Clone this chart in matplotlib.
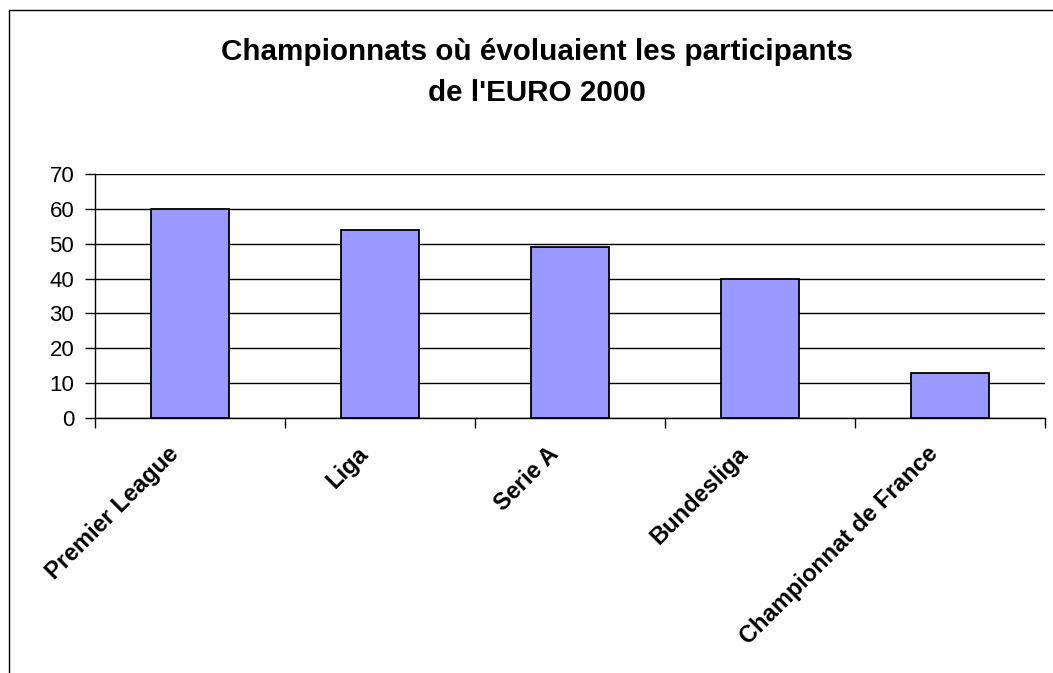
import matplotlib
matplotlib.use("Agg")
import matplotlib.pyplot as plt
from matplotlib.patches import Rectangle
import numpy as np

categories = ["Premier League", "Liga", "Serie A", "Bundesliga", "Championnat de France"]
values = [60, 54, 49, 40, 13]
yticks = [0, 10, 20, 30, 40, 50, 60, 70]
title = "Championnats où évoluaient les participants\nde l'EURO 2000"

plt.rcParams['font.family'] = ['Liberation Sans', 'DejaVu Sans']

W, H = 1053, 673
fig = plt.figure(figsize=(W / 100, H / 100), dpi=100)
fig.patch.set_facecolor("white")

# outer chart border
fig.patches.append(Rectangle((9 / W, -0.1), 1.2, (673 - 10) / H + 0.1,
                             transform=fig.transFigure, fill=False,
                             edgecolor="black", linewidth=1.0))

ax = fig.add_axes([95 / W, (H - 418) / H, (1045 - 95) / W, (418 - 174) / H])
x = np.arange(len(categories))
ax.bar(x, values, width=0.41, color="#9999FF", edgecolor="black", linewidth=1.3, zorder=3)

ax.set_xlim(-0.5, len(categories) - 0.5)
ax.set_ylim(0, 70)
ax.set_yticks(yticks)
ax.set_yticklabels([str(v) for v in yticks], fontsize=16)
ax.yaxis.grid(True, color="black", linewidth=1.0, zorder=0)
ax.set_axisbelow(True)

ax.set_xticks(np.arange(-0.5, len(categories), 1.0), minor=False)
ax.set_xticklabels([])
ax.tick_params(axis="x", length=7, width=1, color="black", direction="out")
ax.tick_params(axis="y", length=7, width=1, color="black", direction="out", pad=8)

for xi, lab in zip(x, categories):
    ax.text(xi - 0.08, -9.3, lab, rotation=45, rotation_mode="anchor",
            ha="right", va="center", fontsize=17, fontweight="bold",
            transform=ax.transData, clip_on=False)

for s in ["top", "right"]:
    ax.spines[s].set_visible(False)
ax.spines["left"].set_linewidth(1.0)
ax.spines["bottom"].set_linewidth(1.0)

fig.text(537 / W, 1 - 72.5 / H, title, ha="center", va="center",
         fontsize=21.3, fontweight="bold", linespacing=1.57)

fig.savefig("out.png", dpi=100, facecolor="white")
